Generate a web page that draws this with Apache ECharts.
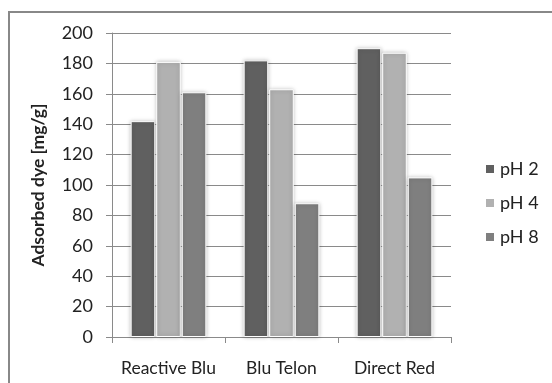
<!DOCTYPE html>
<html>
<head>
<meta charset="utf-8">
<script src="https://cdn.jsdelivr.net/npm/echarts@6/dist/echarts.min.js"></script>
<style>
  html, body { margin: 0; padding: 0; background: #fff; }
  #chart { width: 552px; height: 383px; }
</style>
</head>
<body>
<div id="chart"></div>
<script>
// Dye categories and adsorbed amount (mg/g) at each pH
const categories = ['Reactive Blu', 'Blu Telon', 'Direct Red'];
const ph2 = [142, 182, 190];
const ph4 = [181, 163, 187];
const ph8 = [161, 88, 105];
const seriesNames = ['pH 2', 'pH 4', 'pH 8'];
const seriesColors = ['#606060', '#b1b1b1', '#7f7f7f'];
const yAxisTitle = 'Adsorbed dye [mg/g]';

const font = 'Lato, "Open Sans", sans-serif';
const chart = echarts.init(document.getElementById('chart'), null, { renderer: 'canvas' });

const makeSeries = (name, data, color) => ({
  name,
  type: 'bar',
  data,
  barGap: '4%',
  barCategoryGap: '33%',
  itemStyle: {
    color,
    borderColor: '#ffffff',
    borderWidth: 1,
    shadowBlur: 4,
    shadowColor: 'rgba(0,0,0,0.25)'
  },
  emphasis: { disabled: true },
  animation: false
});

chart.setOption({
  animation: false,
  graphic: [{
    type: 'rect',
    shape: { x: 9, y: 12, width: 600, height: 400 },
    style: { fill: 'none', stroke: '#888888', lineWidth: 2 },
    silent: true
  }],
  grid: { left: 112, top: 33, width: 339, height: 304, containLabel: false },
  legend: {
    orient: 'vertical',
    left: 479,
    top: 155,
    itemWidth: 10,
    itemHeight: 10,
    itemGap: 16,
    icon: 'rect',
    textStyle: { fontFamily: font, fontSize: 18, color: '#222' },
    data: seriesNames
  },
  xAxis: {
    type: 'category',
    data: categories,
    axisLine: { show: true, lineStyle: { color: '#8a8a8a', width: 1 } },
    axisTick: { show: true, length: 6, alignWithLabel: false, lineStyle: { color: '#8a8a8a' } },
    axisLabel: { interval: 0, hideOverlap: false, margin: 22, fontFamily: font, fontSize: 17.5, color: '#222' }
  },
  yAxis: {
    type: 'value',
    min: 0,
    max: 200,
    interval: 20,
    name: yAxisTitle,
    nameLocation: 'middle',
    nameGap: 65,
    nameTextStyle: { fontFamily: font, fontSize: 17.5, fontWeight: 'bold', color: '#222' },
    axisLine: { show: true, lineStyle: { color: '#8a8a8a', width: 1 } },
    axisTick: { show: true, length: 6, lineStyle: { color: '#8a8a8a' } },
    axisLabel: { margin: 19, fontFamily: font, fontSize: 18, color: '#222' },
    splitLine: { show: true, lineStyle: { color: '#8a8a8a', width: 1 } }
  },
  series: [
    makeSeries(seriesNames[0], ph2, seriesColors[0]),
    makeSeries(seriesNames[1], ph4, seriesColors[1]),
    makeSeries(seriesNames[2], ph8, seriesColors[2])
  ]
});
</script>
</body>
</html>
